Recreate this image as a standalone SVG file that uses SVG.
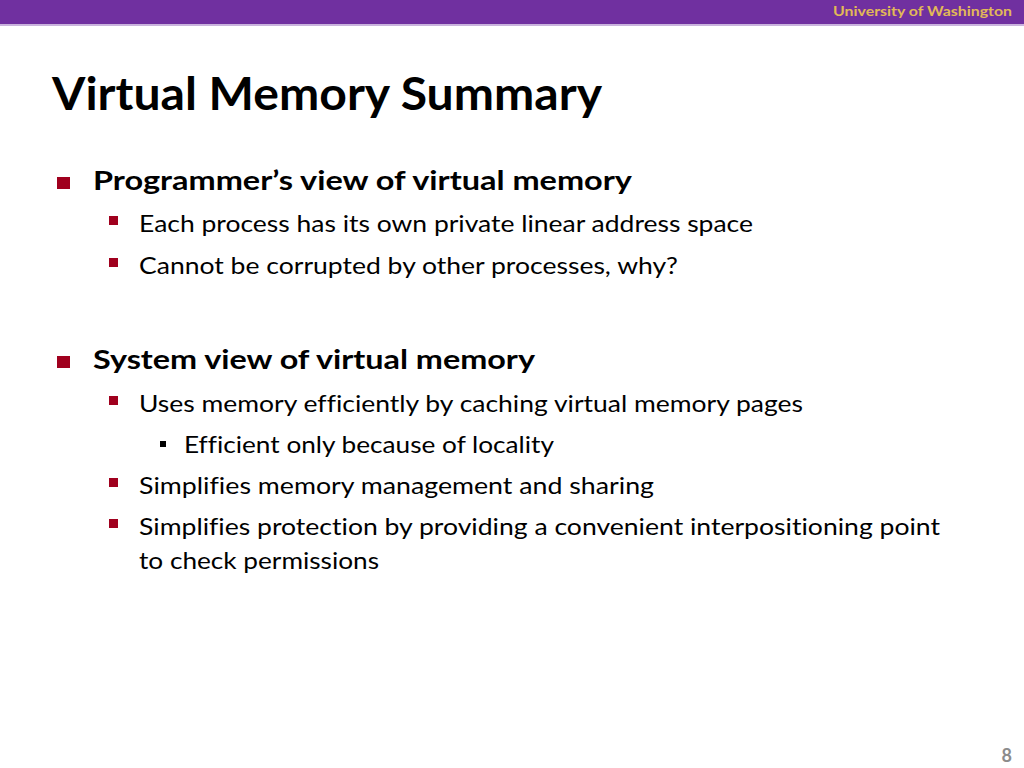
<svg xmlns="http://www.w3.org/2000/svg" width="1024" height="768" viewBox="0 0 1024 768">
<style>
.t{font-family:Lato,"Open Sans","Liberation Sans",sans-serif;fill:#000;font-variant-ligatures:none}
.b1{font-size:27px;font-weight:bold}
.b2{font-size:22.5px}
.red{fill:#A0001E}
</style>
<rect x="0" y="0" width="1024" height="768" fill="#ffffff"/>
<g id="header">
<rect x="0" y="0" width="1024" height="24" fill="#7030A0"/>
<rect x="0" y="24" width="1024" height="2" fill="#C9B3DD"/>
<text x="833" y="16" class="t" style="font-size:14px;font-weight:bold;fill:#E2B957" textLength="179" lengthAdjust="spacingAndGlyphs">University of Washington</text>
</g>
<g id="title">
<text x="52" y="110" class="t" style="font-size:46px;font-weight:bold" textLength="550" lengthAdjust="spacingAndGlyphs">Virtual Memory Summary</text>
</g>
<g id="bullets">
<rect class="red" x="57" y="177" width="13" height="12"/>
<text x="93" y="190" class="t b1" textLength="539" lengthAdjust="spacingAndGlyphs">Programmer’s view of virtual memory</text>
<rect class="red" x="109" y="216" width="9" height="9"/>
<text x="139" y="232" class="t b2" textLength="614" lengthAdjust="spacingAndGlyphs">Each process has its own private linear address space</text>
<rect class="red" x="109" y="258" width="9" height="9"/>
<text x="139" y="274" class="t b2" textLength="539" lengthAdjust="spacingAndGlyphs">Cannot be corrupted by other processes, why?</text>
<rect class="red" x="57" y="356" width="13" height="12"/>
<text x="93" y="369" class="t b1" textLength="442" lengthAdjust="spacingAndGlyphs">System view of virtual memory</text>
<rect class="red" x="109" y="396" width="9" height="9"/>
<text x="139" y="412" class="t b2" textLength="664" lengthAdjust="spacingAndGlyphs">Uses memory efficiently by caching virtual memory pages</text>
<rect x="160" y="441" width="6" height="6" fill="#000"/>
<text x="184" y="453" class="t b2" textLength="370" lengthAdjust="spacingAndGlyphs">Efficient only because of locality</text>
<rect class="red" x="109" y="478" width="9" height="9"/>
<text x="139" y="494" class="t b2" textLength="515" lengthAdjust="spacingAndGlyphs">Simplifies memory management and sharing</text>
<rect class="red" x="109" y="519" width="9" height="9"/>
<text x="139" y="535" class="t b2" textLength="801" lengthAdjust="spacingAndGlyphs">Simplifies protection by providing a convenient interpositioning point</text>
<text x="139" y="569" class="t b2" textLength="240" lengthAdjust="spacingAndGlyphs">to check permissions</text>
</g>
<g id="page-number">
<text x="1012" y="762" class="t" style="font-size:18px;font-weight:bold;fill:#8C8C8C" text-anchor="end">8</text>
</g>
</svg>
